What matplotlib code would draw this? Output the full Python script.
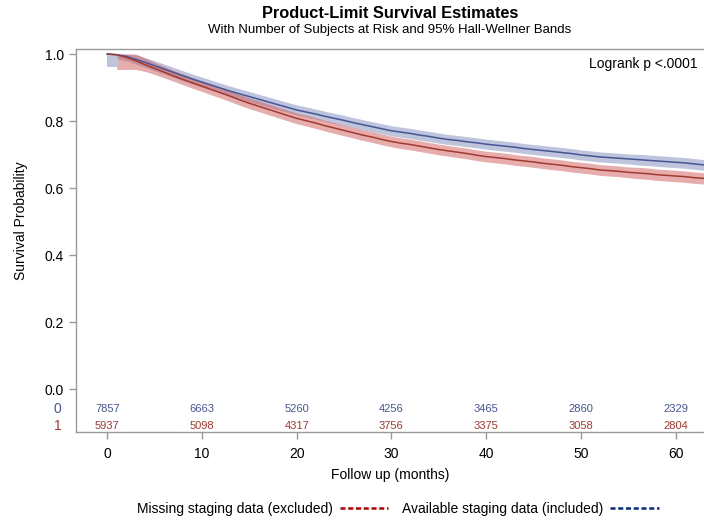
import numpy as np
import matplotlib
matplotlib.use("Agg")
import matplotlib.pyplot as plt
from matplotlib.lines import Line2D

plt.rcParams['font.family'] = ['Liberation Sans', 'DejaVu Sans']

# ---------------- data ----------------
months = list(range(64))

surv_available = [1.000, 0.998, 0.993, 0.984, 0.975, 0.965, 0.955, 0.945, 0.935, 0.925,
                  0.916, 0.907, 0.898, 0.889, 0.881, 0.873, 0.865, 0.857, 0.849, 0.841,
                  0.833, 0.827, 0.821, 0.814, 0.808, 0.802, 0.795, 0.789, 0.783, 0.777,
                  0.771, 0.767, 0.763, 0.758, 0.754, 0.749, 0.745, 0.742, 0.738, 0.735,
                  0.731, 0.728, 0.725, 0.722, 0.718, 0.715, 0.712, 0.709, 0.706, 0.703,
                  0.699, 0.696, 0.693, 0.691, 0.689, 0.687, 0.685, 0.683, 0.681, 0.679,
                  0.677, 0.675, 0.672, 0.669]

surv_missing = [1.000, 0.998, 0.990, 0.980, 0.968, 0.957, 0.946, 0.935, 0.924, 0.914,
                0.904, 0.894, 0.884, 0.874, 0.863, 0.853, 0.844, 0.835, 0.826, 0.817,
                0.808, 0.801, 0.794, 0.786, 0.779, 0.772, 0.765, 0.758, 0.752, 0.745,
                0.739, 0.734, 0.730, 0.725, 0.720, 0.715, 0.711, 0.707, 0.703, 0.698,
                0.694, 0.691, 0.688, 0.684, 0.681, 0.678, 0.674, 0.671, 0.668, 0.664,
                0.661, 0.658, 0.654, 0.652, 0.650, 0.647, 0.645, 0.643, 0.640, 0.638,
                0.636, 0.634, 0.631, 0.629]

# Hall-Wellner band half-widths
band_available = [0.039, 0.012, 0.013, 0.014, 0.014, 0.015, 0.015, 0.015, 0.015, 0.015,
                  0.015, 0.015, 0.015, 0.015, 0.015, 0.015, 0.015, 0.015, 0.015, 0.015,
                  0.015, 0.015, 0.015, 0.015, 0.015, 0.015, 0.015, 0.015, 0.015, 0.015,
                  0.015, 0.015, 0.015, 0.015, 0.015, 0.015, 0.015, 0.015, 0.015, 0.015,
                  0.015, 0.015, 0.015, 0.015, 0.015, 0.015, 0.015, 0.015, 0.015, 0.015,
                  0.015, 0.015, 0.015, 0.015, 0.015, 0.015, 0.016, 0.016, 0.016, 0.016,
                  0.016, 0.016, 0.016, 0.016]
band_missing = [np.nan, 0.044, 0.036, 0.026, 0.020, 0.018, 0.017, 0.016, 0.016, 0.016,
                0.016, 0.016, 0.016, 0.016, 0.016, 0.016, 0.016, 0.016, 0.016, 0.016,
                0.016, 0.016, 0.016, 0.016, 0.016, 0.016, 0.016, 0.016, 0.016, 0.016,
                0.016, 0.016, 0.016, 0.016, 0.016, 0.016, 0.016, 0.016, 0.016, 0.016,
                0.016, 0.016, 0.016, 0.016, 0.016, 0.016, 0.016, 0.016, 0.016, 0.016,
                0.016, 0.016, 0.016, 0.016, 0.016, 0.016, 0.017, 0.017, 0.017, 0.017,
                0.017, 0.017, 0.017, 0.017]

risk_times = [0, 10, 20, 30, 40, 50, 60]
risk_group0 = [7857, 6663, 5260, 4256, 3465, 2860, 2329]
risk_group1 = [5937, 5098, 4317, 3756, 3375, 3058, 2804]

legend_labels = ["Missing staging data (excluded)", "Available staging data (included)"]

# ---------------- styles ----------------
blue_line = '#445694'
red_line = '#A23A2E'
blue_fill = '#6F7EB3'
red_fill = '#D05B5B'
gray = '#9a9a9a'

fig = plt.figure(figsize=(7.04, 5.22), dpi=100)
ax = fig.add_axes([76/704, 1-431.7/522, 1-76/704, (431.7-49)/522])

t = np.array(months, dtype=float)
sa = np.array(surv_available)
sm = np.array(surv_missing)
ba = np.array(band_available)
bm = np.array(band_missing)

# early flat portion of the blue band (start of Hall-Wellner range)
ax.fill_between(t[:2], (sa - ba)[:1].repeat(2), [1.0, 1.0], step='post',
                color=blue_fill, alpha=0.45, linewidth=0)
ax.fill_between(t[1:], (sa - ba)[1:], np.minimum(sa + ba, 1.0)[1:],
                color=blue_fill, alpha=0.45, linewidth=0)
ax.fill_between(t[1:], (sm - bm)[1:], np.minimum(sm + bm, 1.0)[1:],
                color=red_fill, alpha=0.5, linewidth=0)
ax.plot(t, sa, color=blue_line, lw=1.1)
ax.plot(t, sm, color=red_line, lw=1.1)

ax.set_xlim(-3.3, 63.0)
ax.set_ylim(-0.127, 1.015)
ax.set_yticks([0.0, 0.2, 0.4, 0.6, 0.8, 1.0])
ax.set_yticklabels(['0.0', '0.2', '0.4', '0.6', '0.8', '1.0'])
ax.set_xticks([0, 10, 20, 30, 40, 50, 60])

for s in ['left', 'bottom', 'top']:
    ax.spines[s].set_color(gray)
    ax.spines[s].set_linewidth(1.0)
ax.spines['right'].set_visible(False)
ax.tick_params(axis='both', colors=gray, labelcolor='black', length=5, width=1,
               labelsize=10)
ax.tick_params(axis='x', pad=6)

ax.set_ylabel('Survival Probability', fontsize=10)
ax.yaxis.set_label_coords(-0.076, 0.551)
ax.set_xlabel('Follow up (months)', fontsize=10, labelpad=5)

# at-risk table inside axes
for tt, n0, n1 in zip(risk_times, risk_group0, risk_group1):
    ax.text(tt, -0.06, str(n0), color=blue_line, fontsize=8, ha='center', va='center')
    ax.text(tt, -0.11, str(n1), color=red_line, fontsize=8, ha='center', va='center')
trans = matplotlib.transforms.blended_transform_factory(ax.transAxes, ax.transData)
ax.text(-0.029, -0.06, '0', color=blue_line, fontsize=10, ha='center', va='center', transform=trans)
ax.text(-0.029, -0.11, '1', color=red_line, fontsize=10, ha='center', va='center', transform=trans)

ax.text(0.989, 0.961, 'Logrank p <.0001', transform=ax.transAxes, ha='right', va='center',
        fontsize=10)

fig.text(390/704, 1-13/522, 'Product-Limit Survival Estimates', ha='center', va='center',
         fontsize=11.8, fontweight='bold')
fig.text(390/704, 1-30/522, 'With Number of Subjects at Risk and 95% Hall-Wellner Bands',
         ha='center', va='center', fontsize=9.5)

handles = [Line2D([0], [0], color='#B00000', lw=1.8, dashes=(2.0, 1.1)),
           Line2D([0], [0], color='#0A2A80', lw=1.8, dashes=(2.0, 1.1))]
fig.legend(handles, legend_labels, loc='center', bbox_to_anchor=(398/704, 1-509/522),
           ncol=2, frameon=False, markerfirst=False, fontsize=10, handlelength=3.5,
           columnspacing=1.0, handletextpad=0.5)

fig.savefig('out.png', dpi=100)
